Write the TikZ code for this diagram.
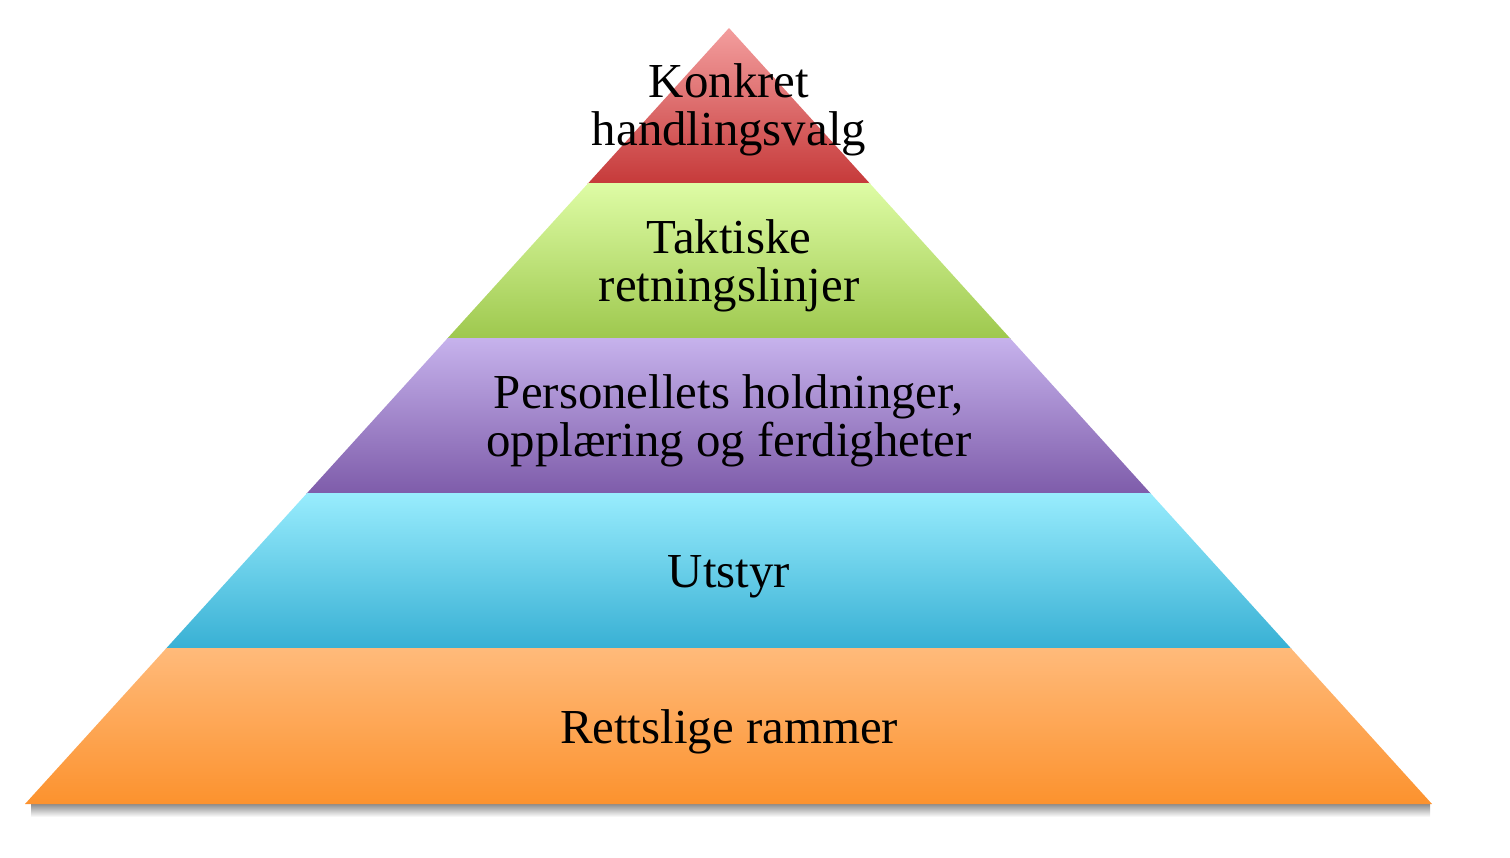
\documentclass[tikz,border=0pt]{standalone}
\usepackage{fontspec}
\setmainfont{Liberation Serif}
\usetikzlibrary{positioning}

\definecolor{redtop}{RGB}{243,158,158}
\definecolor{redbot}{RGB}{198,58,58}
\definecolor{greentop}{RGB}{222,252,165}
\definecolor{greenbot}{RGB}{158,200,78}
\definecolor{purpletop}{RGB}{198,178,236}
\definecolor{purplebot}{RGB}{126,92,170}
\definecolor{cyantop}{RGB}{152,236,253}
\definecolor{cyanbot}{RGB}{56,176,212}
\definecolor{orangetop}{RGB}{255,186,122}
\definecolor{orangebot}{RGB}{252,146,46}

\begin{document}
\begin{tikzpicture}[thick,
    layertext/.style={align=center, text=black, font=\fontsize{27.8}{27.3}\selectfont}]

    \useasboundingbox (0,0) rectangle (30.2,-17.14);

    \coordinate (apex) at (14.58,-0.56);
    \coordinate (baseL) at (0.5,-16.08);
    \coordinate (baseR) at (28.64,-16.08);

    % shadow under the base
    \shade[top color=black!45, bottom color=white] (0.62,-16.08) rectangle (28.6,-16.34);

    \begin{scope}
        \clip (apex) -- (baseL) -- (baseR) -- cycle;
        \foreach \i/\tc/\bc in {0/redtop/redbot, 1/greentop/greenbot,
                2/purpletop/purplebot, 3/cyantop/cyanbot, 4/orangetop/orangebot}
            \shade[top color=\tc, bottom color=\bc]
                (0,{-0.56-\i*3.104}) rectangle (30.2,{-0.56-(\i+1)*3.104});
    \end{scope}

    \node[layertext] (valg) at (14.58,-2.2)
    {Konkret\\handlingsvalg};

    \node[layertext] (taktikk) at (14.58,-5.32)
    {Taktiske\\retningslinjer};

    \node[layertext] (personell) at (14.58,-8.42)
    {Personellets holdninger,\\oppl\ae ring og ferdigheter};

    \node[layertext] (utstyr) at (14.58,-11.53)
    {Utstyr};

    \node[layertext] (rammer) at (14.58,-14.63)
    {Rettslige rammer};
\end{tikzpicture}
\end{document}
